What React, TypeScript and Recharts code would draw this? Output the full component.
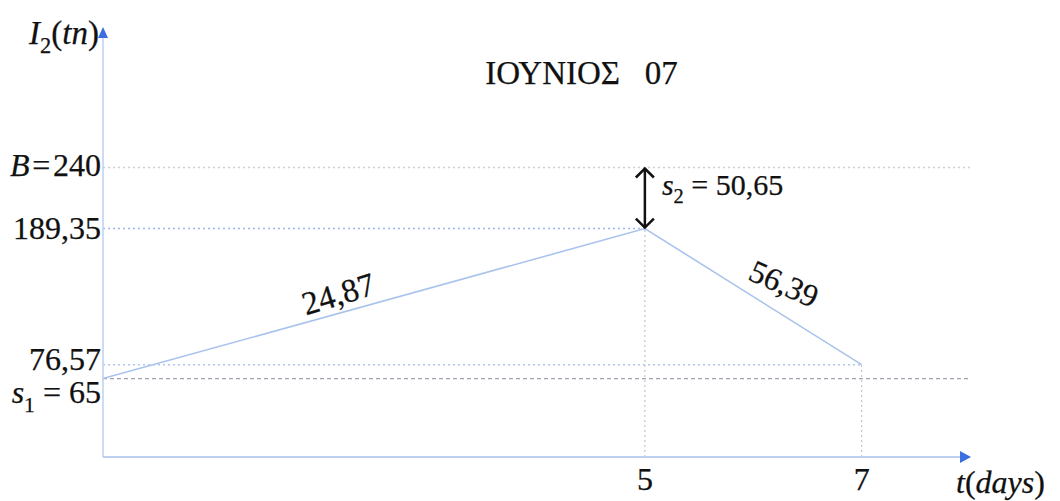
import React from "react";
import {
  LineChart,
  Line,
  XAxis,
  YAxis,
  ReferenceLine,
  ReferenceDot,
} from "recharts";

// inventory level over the month
const days = [0, 5, 7];
const stock = [65, 189.35, 76.57];

const xTicks = [5, 7];
const xTickLabels = ["5", "7"];
const yTicks = [65, 76.57, 189.35, 240];
const yTickLabels = ["s_1 = 65", "76,57", "189,35", "B\u200a=\u200a240"];
// small vertical nudges so the two close labels don't collide
const yTickNudge = [14, -5, 0, -2];

const capacity = 240;
const gapLabel = "s_2 = 50,65";
const rateLabels = ["24,87", "56,39"];
const title = "ΙΟΥΝΙΟΣ   07";

const SERIF = "Liberation Serif";
const AXIS = "#bcd0f0";
const ARROW = "#3b6ee0";
const LINE = "#a9c3ec";

const data = days.map((d, i) => ({ t: d, level: stock[i] }));

// letters italic, "_x" becomes a subscript
function MathText({ x, y, text, anchor = "start", size = 30, rotate = 0 }: any) {
  const parts: React.ReactNode[] = [];
  let buf = "";
  let italic = false;
  let pendingDy = 0;
  const flush = () => {
    if (!buf) return;
    parts.push(
      <tspan key={parts.length} fontStyle={italic ? "italic" : "normal"} dy={pendingDy || undefined}>
        {buf}
      </tspan>
    );
    pendingDy = 0;
    buf = "";
  };
  for (let i = 0; i < text.length; i++) {
    const ch = text[i];
    if (ch === "_") {
      flush();
      parts.push(
        <tspan key={parts.length} fontSize={size * 0.68} dy={size * 0.28}>
          {text[i + 1]}
        </tspan>
      );
      pendingDy = -size * 0.28;
      i++;
      continue;
    }
    const isLetter = /[A-Za-z]/.test(ch);
    if (buf && isLetter !== italic) flush();
    italic = isLetter;
    buf += ch;
  }
  flush();
  return (
    <text
      x={x}
      y={y}
      textAnchor={anchor}
      fontSize={size}
      fill="#111"
      stroke="#111"
      strokeWidth={0.25}
      style={{ fontFamily: SERIF }}
      transform={rotate ? `rotate(${rotate} ${x} ${y})` : undefined}
    >
      {parts}
    </text>
  );
}

const YTick = (props: any) => {
  const { x, y, payload } = props;
  const i = yTicks.indexOf(payload.value);
  return <MathText x={x} y={y + 10 + yTickNudge[i]} text={yTickLabels[i]} anchor="end" size={32} />;
};

const XTick = (props: any) => {
  const { x, y, payload } = props;
  const i = xTicks.indexOf(payload.value);
  return <MathText x={x} y={y + 33} text={xTickLabels[i]} anchor="middle" size={32} />;
};

const DoubleArrow = (props: any) => {
  const { x1, y1, y2 } = props;
  const top = Math.min(y1, y2);
  const bot = Math.max(y1, y2);
  const x = x1;
  return (
    <g>
      <g stroke="#111" strokeWidth={2.5} fill="none">
        <line x1={x} y1={top + 1} x2={x} y2={bot - 1} />
        <polyline points={`${x - 9},${top + 10} ${x},${top + 1} ${x + 9},${top + 10}`} />
        <polyline points={`${x - 9},${bot - 10} ${x},${bot - 1} ${x + 9},${bot - 10}`} />
      </g>
      <MathText x={x + 17} y={(top + bot) / 2 - 3} text={gapLabel} size={30} />
    </g>
  );
};

export default function App() {
  return (
    <div style={{ position: "absolute", left: 0, top: 0, width: 1060, height: 501, background: "#fff" }}>
      <div
        style={{
          position: "absolute",
          left: 0,
          width: 1163,
          top: 57,
          textAlign: "center",
          fontFamily: SERIF,
          fontSize: 33,
          lineHeight: "33px",
          whiteSpace: "pre",
          color: "#111",
          WebkitTextStroke: "0.25px #111",
        }}
      >
        {title}
      </div>
      <LineChart width={1060} height={501} data={data} margin={{ top: 30, right: 90, bottom: 0, left: 0 }}>
        <XAxis
          dataKey="t"
          type="number"
          domain={[0, 8]}
          ticks={xTicks}
          tick={<XTick />}
          tickLine={false}
          axisLine={{ stroke: AXIS, strokeWidth: 2 }}
          height={44}
          tickSize={0}
          tickMargin={0}
        />
        <YAxis
          type="number"
          domain={[0, 354]}
          ticks={yTicks}
          tick={<YTick />}
          tickLine={false}
          axisLine={{ stroke: AXIS, strokeWidth: 1.5 }}
          width={103}
          tickSize={0}
          tickMargin={2}
          interval={0}
        />
        <ReferenceLine y={capacity} stroke="#cfcfcf" strokeDasharray="2 3" strokeWidth={1.5} />
        <ReferenceLine y={stock[0]} stroke="#a0a0b0" strokeDasharray="4 3" strokeWidth={1.2} />
        <ReferenceLine
          segment={[{ x: 0, y: stock[1] }, { x: days[1], y: stock[1] }]}
          stroke="#9db8ea"
          strokeDasharray="2 3"
          strokeWidth={1.5}
        />
        <ReferenceLine
          segment={[{ x: 0, y: stock[2] }, { x: days[2], y: stock[2] }]}
          stroke="#b3c6ea"
          strokeDasharray="2 3"
          strokeWidth={1.5}
        />
        <ReferenceLine
          segment={[{ x: days[1], y: 0 }, { x: days[1], y: stock[1] }]}
          stroke="#c4c4c4"
          strokeDasharray="2 3"
          strokeWidth={1.2}
        />
        <ReferenceLine
          segment={[{ x: days[2], y: 0 }, { x: days[2], y: stock[2] }]}
          stroke="#c4c4c4"
          strokeDasharray="2 3"
          strokeWidth={1.2}
        />
        <Line
          type="linear"
          dataKey="level"
          stroke={LINE}
          strokeWidth={1.6}
          dot={false}
          isAnimationActive={false}
        />
        <ReferenceLine
          segment={[{ x: days[1], y: stock[1] }, { x: days[1], y: capacity }]}
          shape={<DoubleArrow />}
        />
        {/* rate labels along the two segments */}
        <ReferenceDot
          x={days[0] + (days[1] - days[0]) * 0.44}
          y={stock[0] + (stock[1] - stock[0]) * 0.44}
          ifOverflow="visible"
          shape={(p: any) => (
            <MathText x={p.cx} y={p.cy - 8} text={rateLabels[0]} anchor="middle" size={33} rotate={-17} />
          )}
        />
        <ReferenceDot
          x={days[1] + (days[2] - days[1]) * 0.64}
          y={stock[1] + (stock[2] - stock[1]) * 0.64}
          ifOverflow="visible"
          shape={(p: any) => (
            <MathText x={p.cx - 4} y={p.cy - 22} text={rateLabels[1]} anchor="middle" size={32} rotate={24} />
          )}
        />
        {/* axis arrowheads and axis titles */}
        <ReferenceDot
          x={8}
          y={0}
          ifOverflow="visible"
          shape={(p: any) => (
            <g>
              <polygon points={`${p.cx - 10},${p.cy - 6} ${p.cx + 1},${p.cy} ${p.cx - 10},${p.cy + 6}`} fill={ARROW} />
              <MathText x={p.cx - 14} y={p.cy + 36} text="t(days)" size={32} />
            </g>
          )}
        />
        <ReferenceDot
          x={0}
          y={354}
          ifOverflow="visible"
          shape={(p: any) => (
            <g>
              <polygon points={`${p.cx - 5},${p.cy + 8} ${p.cx},${p.cy - 3} ${p.cx + 5},${p.cy + 8}`} fill={ARROW} />
              <MathText x={p.cx - 4} y={p.cy + 14} text="I_2(tn)" anchor="end" size={33} />
            </g>
          )}
        />
      </LineChart>
    </div>
  );
}
